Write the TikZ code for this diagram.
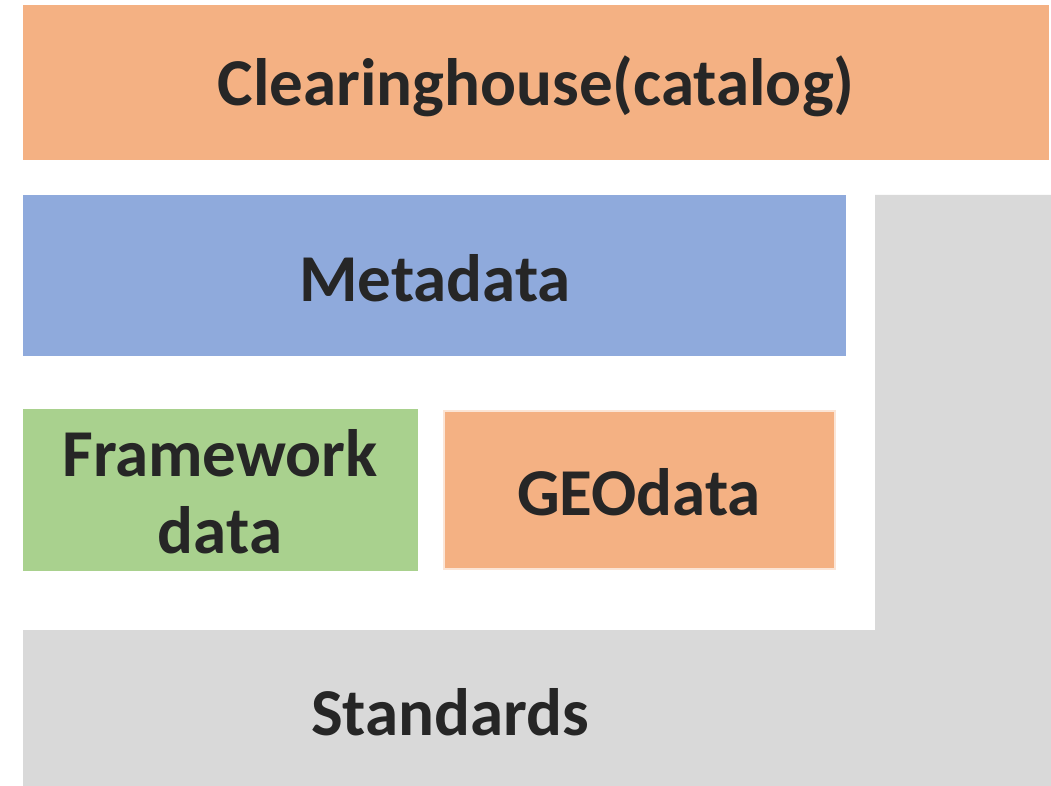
\documentclass[tikz,border=0pt]{standalone}
\usepackage{fontspec}
\setmainfont{Carlito}
\usepackage{xcolor}
\usepackage{tikz}

\definecolor{chOrange}{HTML}{F4B183}
\definecolor{mdBlue}{HTML}{8FAADC}
\definecolor{fwGreen}{HTML}{A9D18E}
\definecolor{stGray}{HTML}{D9D9D9}
\definecolor{geoEdge}{HTML}{FBE5D6}
\definecolor{txtDark}{HTML}{262626}

\begin{document}
\begin{tikzpicture}[x=1pt, y=-1pt,
    layer/.style={inner sep=0pt, outer sep=0pt, align=center, text=txtDark,
        font=\fontsize{67}{77}\selectfont\bfseries}]
    \useasboundingbox (0,0) rectangle (1051,786);

    % L shaped standards band
    \coordinate (sA) at (875,195);
    \coordinate (sB) at (1051,195);
    \coordinate (sC) at (1051,786);
    \coordinate (sD) at (23,786);
    \coordinate (sE) at (23,630);
    \coordinate (sF) at (875,630);
    \fill [stGray] (sA)--(sB)--(sC)--(sD)--(sE)--(sF)--cycle;

    % boxes
    \fill [chOrange] (23,5) rectangle (1049,160);
    \fill [mdBlue] (23,195) rectangle (846,356);
    \fill [fwGreen] (23,409) rectangle (418,571);
    \filldraw [chOrange, draw=geoEdge, line width=2pt] (444,411) rectangle (835,569);

    % labels
    \node [layer] (clearing) at (536,86) {Clearinghouse(catalog)};
    \node [layer] (meta) at (435,278) {Metadata};
    \node [layer] (framework) at (220,492) {Framework\\data};
    \node [layer] (geodata) at (639,492) {GEOdata};
    \node [layer] (standards) at (450,712) {Standards};
\end{tikzpicture}
\end{document}
